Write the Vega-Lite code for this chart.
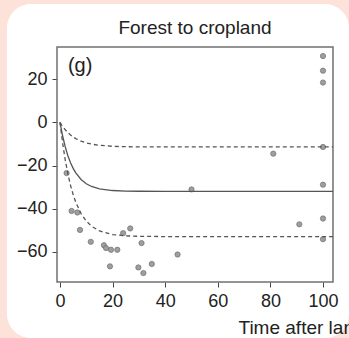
{
  "$schema": "https://vega.github.io/schema/vega-lite/v6.json",
  "width": 342,
  "height": 334,
  "autosize": {"type": "none"},
  "padding": {"left": 7, "top": 4, "right": 0, "bottom": 0},
  "background": "#fde2d9",
  "config": {
    "view": {"fill": "white", "stroke": null, "cornerRadius": 24},
    "font": "Liberation Sans"
  },
  "title": {
    "text": "Forest to cropland",
    "fontSize": 19,
    "fontWeight": "normal",
    "color": "#222222",
    "anchor": "middle",
    "frame": "group",
    "offset": 0,
    "dx": 17,
    "dy": 49,
    "baseline": "alphabetic"
  },
  "datasets": {
    "obs": [
      {"x": 2.5, "y": -23.5}, {"x": 4.4, "y": -41.1}, {"x": 6.6, "y": -41.8},
      {"x": 7.6, "y": -49.9}, {"x": 11.7, "y": -55.4}, {"x": 16.7, "y": -57},
      {"x": 17.5, "y": -58.3}, {"x": 19.4, "y": -59.1}, {"x": 21.8, "y": -59.1},
      {"x": 19, "y": -66.8}, {"x": 24, "y": -51.4}, {"x": 26.7, "y": -49.2},
      {"x": 31, "y": -56}, {"x": 29.8, "y": -67.3}, {"x": 31.7, "y": -69.9},
      {"x": 34.9, "y": -65.7}, {"x": 44.7, "y": -61.3}, {"x": 50, "y": -31.1},
      {"x": 81.1, "y": -14.5}, {"x": 91, "y": -47.3}, {"x": 100, "y": 30.8},
      {"x": 100, "y": 24}, {"x": 100, "y": 18.5}, {"x": 100, "y": -11.4},
      {"x": 100, "y": -28.9}, {"x": 100, "y": -44.6}, {"x": 100, "y": -54.2}
    ],
    "curves": [
      {"series": "upper", "x": 0, "y": 0}, {"series": "upper", "x": 1, "y": -1.88},
      {"series": "upper", "x": 2, "y": -3.44}, {"series": "upper", "x": 3, "y": -4.75},
      {"series": "upper", "x": 4, "y": -5.85}, {"series": "upper", "x": 5, "y": -6.76},
      {"series": "upper", "x": 6, "y": -7.52}, {"series": "upper", "x": 8, "y": -8.7},
      {"series": "upper", "x": 10, "y": -9.52}, {"series": "upper", "x": 12, "y": -10.09},
      {"series": "upper", "x": 15, "y": -10.64}, {"series": "upper", "x": 20, "y": -11.09},
      {"series": "upper", "x": 25, "y": -11.27}, {"series": "upper", "x": 30, "y": -11.35},
      {"series": "upper", "x": 40, "y": -11.39}, {"series": "upper", "x": 60, "y": -11.4},
      {"series": "upper", "x": 103.8, "y": -11.4},
      {"series": "mid", "x": 0, "y": 0}, {"series": "mid", "x": 1, "y": -6.32},
      {"series": "mid", "x": 2, "y": -11.39}, {"series": "mid", "x": 3, "y": -15.46},
      {"series": "mid", "x": 4, "y": -18.72}, {"series": "mid", "x": 5, "y": -21.34},
      {"series": "mid", "x": 6, "y": -23.45}, {"series": "mid", "x": 8, "y": -26.5},
      {"series": "mid", "x": 10, "y": -28.45}, {"series": "mid", "x": 12, "y": -29.73},
      {"series": "mid", "x": 15, "y": -30.82}, {"series": "mid", "x": 20, "y": -31.61},
      {"series": "mid", "x": 25, "y": -31.87}, {"series": "mid", "x": 30, "y": -31.96},
      {"series": "mid", "x": 40, "y": -32}, {"series": "mid", "x": 60, "y": -32},
      {"series": "mid", "x": 103.8, "y": -32},
      {"series": "lower", "x": 0, "y": 0}, {"series": "lower", "x": 1, "y": -9.61},
      {"series": "lower", "x": 2, "y": -17.49}, {"series": "lower", "x": 3, "y": -23.9},
      {"series": "lower", "x": 4, "y": -29.2}, {"series": "lower", "x": 5, "y": -33.5},
      {"series": "lower", "x": 6, "y": -37.05}, {"series": "lower", "x": 8, "y": -42.3},
      {"series": "lower", "x": 10, "y": -45.8}, {"series": "lower", "x": 12, "y": -48.2},
      {"series": "lower", "x": 15, "y": -50.35}, {"series": "lower", "x": 20, "y": -52.05},
      {"series": "lower", "x": 25, "y": -52.64}, {"series": "lower", "x": 30, "y": -52.87},
      {"series": "lower", "x": 40, "y": -52.98}, {"series": "lower", "x": 60, "y": -53},
      {"series": "lower", "x": 103.8, "y": -53}
    ]
  },
  "layer": [
    {
      "data": {"values": [{"frame": "box"}]},
      "mark": {"type": "rect", "filled": false, "stroke": "#707070", "strokeWidth": 1.5},
      "encoding": {
        "x": {"datum": -1.14, "type": "quantitative", "scale": {"domain": [0, 100], "range": [53, 316], "nice": false, "zero": false}},
        "x2": {"datum": 103.8},
        "y": {"datum": 35, "type": "quantitative", "scale": {"domain": [-60, 20], "range": [247.7, 75.3], "nice": false, "zero": false}},
        "y2": {"datum": -74.1}
      }
    },
    {
      "data": {"name": "obs"},
      "mark": {"type": "circle", "size": 28, "fill": "#999999", "stroke": "#6a6a6a", "strokeWidth": 0.7, "opacity": 0.95},
      "encoding": {
        "x": {
          "field": "x",
          "type": "quantitative",
          "scale": {"domain": [0, 100], "range": [53, 316], "nice": false, "zero": false},
          "axis": {
            "values": [0, 20, 40, 60, 80, 100],
            "offset": -56,
            "domain": false,
            "grid": false,
            "tickSize": 5,
            "tickColor": "#444444",
            "labelFont": "Liberation Sans",
            "labelFontSize": 18,
            "labelColor": "#222222",
            "labelPadding": 5,
            "labelFlush": false,
            "labelOverlap": false,
            "title": "Time after land-use change",
            "titleFont": "Liberation Sans",
            "titleFontSize": 19,
            "titleFontWeight": "normal",
            "titleColor": "#222222",
            "titleAlign": "left",
            "titleBaseline": "alphabetic",
            "titleX": 231,
            "titleY": 51
          }
        },
        "y": {
          "field": "y",
          "type": "quantitative",
          "scale": {"domain": [-60, 20], "range": [247.7, 75.3], "nice": false, "zero": false},
          "axis": {
            "values": [-60, -40, -20, 0, 20],
            "offset": -50,
            "domain": false,
            "grid": false,
            "tickSize": 5,
            "tickColor": "#444444",
            "labelFont": "Liberation Sans",
            "labelFontSize": 18,
            "labelColor": "#222222",
            "labelPadding": 5,
            "labelOverlap": false,
            "title": null
          }
        }
      }
    },
    {
      "data": {"name": "curves"},
      "transform": [{"filter": "datum.series !== 'mid'"}],
      "mark": {"type": "line", "color": "#555555", "strokeWidth": 1.3, "strokeDash": [4, 3]},
      "encoding": {
        "x": {"field": "x", "type": "quantitative", "scale": {"domain": [0, 100], "range": [53, 316], "nice": false, "zero": false}},
        "y": {"field": "y", "type": "quantitative", "scale": {"domain": [-60, 20], "range": [247.7, 75.3], "nice": false, "zero": false}},
        "detail": {"field": "series"}
      }
    },
    {
      "data": {"name": "curves"},
      "transform": [{"filter": "datum.series === 'mid'"}],
      "mark": {"type": "line", "color": "#555555", "strokeWidth": 1.3},
      "encoding": {
        "x": {"field": "x", "type": "quantitative", "scale": {"domain": [0, 100], "range": [53, 316], "nice": false, "zero": false}},
        "y": {"field": "y", "type": "quantitative", "scale": {"domain": [-60, 20], "range": [247.7, 75.3], "nice": false, "zero": false}}
      }
    },
    {
      "data": {"values": [{"label": "(g)"}]},
      "mark": {"type": "text", "fontSize": 20, "color": "#222222", "align": "left", "baseline": "middle", "font": "Liberation Sans"},
      "encoding": {
        "text": {"field": "label"},
        "x": {"datum": 3, "type": "quantitative", "scale": {"domain": [0, 100], "range": [53, 316], "nice": false, "zero": false}},
        "y": {"datum": 26, "type": "quantitative", "scale": {"domain": [-60, 20], "range": [247.7, 75.3], "nice": false, "zero": false}}
      }
    }
  ]
}
